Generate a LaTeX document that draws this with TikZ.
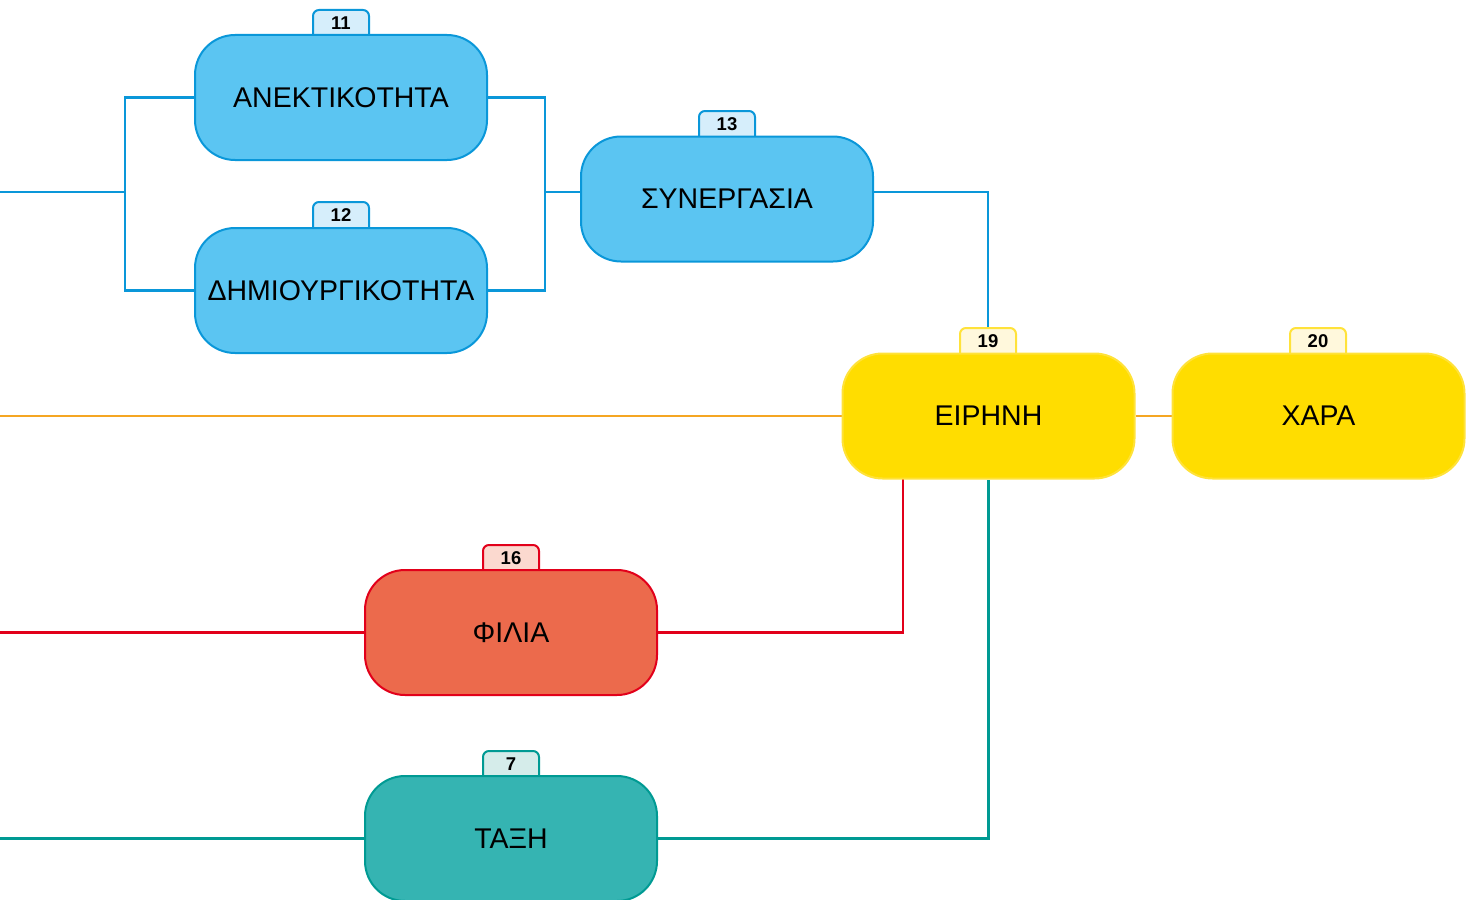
\documentclass[tikz,border=0pt]{standalone}
\usepackage{fontspec}
\setmainfont{Liberation Sans}
\pgfdeclarelayer{bg}
\pgfsetlayers{bg,main}
\definecolor{bluef}{HTML}{5BC5F2}
\definecolor{bluel}{HTML}{0A97D9}
\definecolor{bluet}{HTML}{D6EEFB}
\definecolor{yelf}{HTML}{FFDD00}
\definecolor{yell}{HTML}{FFE23A}
\definecolor{yelt}{HTML}{FFF8DC}
\definecolor{oran}{HTML}{F5A623}
\definecolor{redf}{HTML}{EC6A4C}
\definecolor{redl}{HTML}{E2001A}
\definecolor{redt}{HTML}{FBD9CF}
\definecolor{tealf}{HTML}{35B4B2}
\definecolor{teall}{HTML}{009A93}
\definecolor{tealt}{HTML}{D5ECEA}
\tikzset{
  topic/.style={rectangle, rounded corners=40pt, minimum width=292pt, minimum height=125pt,
    inner sep=0pt, line width=2pt, font=\fontsize{28.5}{33}\selectfont, text=black},
  tabbox/.style={rectangle, rounded corners=6pt, minimum width=56pt, minimum height=32pt,
    inner sep=0pt, line width=2pt},
  tablabel/.style={font=\fontsize{18.5}{20}\selectfont\bfseries, inner sep=0pt, text=black},
  conn/.style={line width=2.2pt},
}
\begin{document}
\begin{tikzpicture}[x=1pt,y=-1pt]
\useasboundingbox (0,0) rectangle (1474,899);
% tabs (drawn first, so the topic boxes cover their lower ends)
\node[tabbox, draw=bluel, fill=bluet] (t11) at (341,26) {};
\node[tabbox, draw=bluel, fill=bluet] (t12) at (341,218) {};
\node[tabbox, draw=bluel, fill=bluet] (t13) at (727,127) {};
\node[tabbox, draw=yell, fill=yelt] (t19) at (988,344) {};
\node[tabbox, draw=yell, fill=yelt] (t20) at (1318,344) {};
\node[tabbox, draw=redl, fill=redt] (t16) at (511,561) {};
\node[tabbox, draw=teall, fill=tealt] (t7) at (511,767) {};
% topics
\node[topic, draw=bluel, fill=bluef] (anek) at (341,97.5) {ΑΝΕΚΤΙΚΟΤΗΤΑ};
\node[topic, draw=bluel, fill=bluef] (dhm) at (341,290.5) {ΔΗΜΙΟΥΡΓΙΚΟΤΗΤΑ};
\node[topic, draw=bluel, fill=bluef] (syn) at (727,199) {ΣΥΝΕΡΓΑΣΙΑ};
\node[topic, draw=yell, fill=yelf] (eir) at (988.5,416) {ΕΙΡΗΝΗ};
\node[topic, draw=yell, fill=yelf] (xar) at (1318.5,416) {ΧΑΡΑ};
\node[topic, draw=redl, fill=redf] (fil) at (511,632.5) {ΦΙΛΙΑ};
\node[topic, draw=teall, fill=tealf] (tax) at (511,838.5) {ΤΑΞΗ};
% tab labels
\node[tablabel] (n11) at (341,23) {11};
\node[tablabel] (n12) at (341,215) {12};
\node[tablabel] (n13) at (727,124) {13};
\node[tablabel] (n19) at (988,341) {19};
\node[tablabel] (n20) at (1318,341) {20};
\node[tablabel] (n16) at (511,558) {16};
\node[tablabel] (n7) at (511,764) {7};
% connector end points
\coordinate (lblue) at (0,192);
\coordinate (bj1) at (125,192);
\coordinate (bj2) at (545,192);
\coordinate (lor) at (0,416);
\coordinate (lred) at (0,632.5);
\coordinate (lteal) at (0,838.5);
\coordinate (rj) at (903,479);
\begin{pgfonlayer}{bg}
\draw[conn, bluel] (lblue) -- (bj1);
\draw[conn, bluel] (anek.west) -| (bj1) |- (dhm.west);
\draw[conn, bluel] (anek.east) -| (bj2) |- (dhm.east);
\draw[conn, bluel] (bj2) -- (bj2 -| syn.west);
\draw[conn, bluel] (bj2 -| syn.east) -| (t19.north);
\draw[conn, oran] (lor) -- (eir.west);
\draw[conn, oran] (eir.east) -- (xar.west);
\draw[conn, redl] (lred) -- (fil.west);
\draw[conn, redl] (fil.east) -| (rj);
\draw[conn, teall] (lteal) -- (tax.west);
\draw[conn, teall] (tax.east) -| (eir.south);
\end{pgfonlayer}
\end{tikzpicture}
\end{document}
